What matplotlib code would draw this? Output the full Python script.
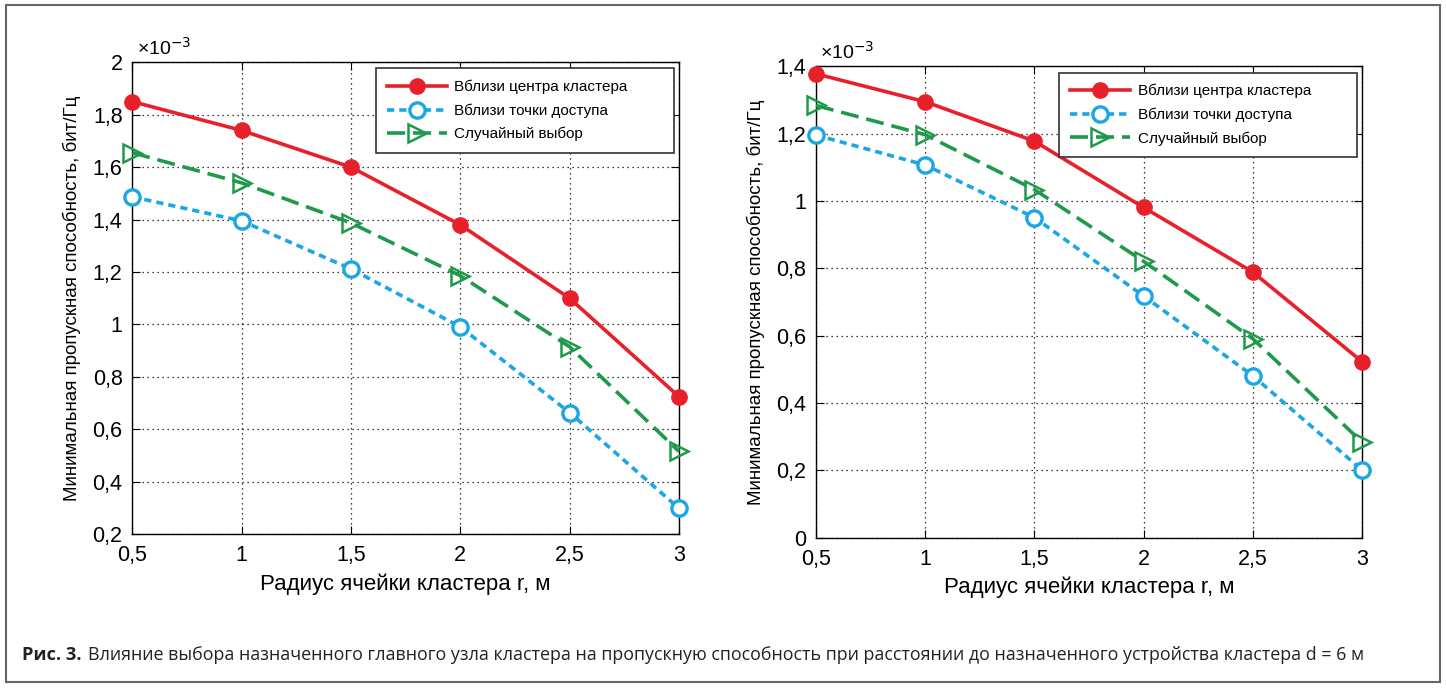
import matplotlib
matplotlib.use('Agg')
import matplotlib.pyplot as plt
from matplotlib.patches import Rectangle
from matplotlib.ticker import FuncFormatter, MultipleLocator

# ── Data ─────────────────────────────────────────────────────────
r = [0.5, 1.0, 1.5, 2.0, 2.5, 3.0]

# left panel (×10^-3)
left_center = [1.85, 1.74, 1.60, 1.38, 1.10, 0.725]
left_access = [1.487, 1.395, 1.212, 0.991, 0.664, 0.299]
left_random = [1.655, 1.54, 1.387, 1.186, 0.915, 0.516]

# right panel (×10^-3)
right_center = [1.378, 1.295, 1.178, 0.981, 0.789, 0.523]
right_access = [1.196, 1.107, 0.951, 0.718, 0.481, 0.201]
right_random = [1.284, 1.197, 1.034, 0.821, 0.591, 0.284]

labels = ["Вблизи центра кластера", "Вблизи точки доступа", "Случайный выбор"]

RED = "#e8202a"
BLUE = "#1aa7e3"
GREEN = "#1f9a4a"

plt.rcParams['font.family'] = ['Liberation Sans', 'DejaVu Sans']

comma = FuncFormatter(lambda v, p: (f"{v:g}").replace(".", ","))


def draw_panel(ax, center, access, random_, ylim, ystep):
    ax.plot(r, center, color=RED, lw=2.6, marker="o", ms=11,
            markerfacecolor=RED, markeredgecolor=RED, label=labels[0],
            zorder=4, clip_on=False)
    ax.plot(r, access, color=BLUE, lw=2.6, ls=(0, (2.0, 1.4)), marker="o", ms=11,
            markerfacecolor="white", markeredgecolor=BLUE, mew=2.4,
            label=labels[1], zorder=3, clip_on=False)
    ax.plot(r, random_, color=GREEN, lw=2.6, ls=(0, (5, 2.2)), marker=">", ms=13,
            markerfacecolor="none", markeredgecolor=GREEN, mew=1.8,
            label=labels[2], zorder=3, clip_on=False)
    ax.set_xlim(0.5, 3)
    ax.set_ylim(*ylim)
    ax.yaxis.set_major_locator(MultipleLocator(ystep))
    ax.xaxis.set_major_locator(MultipleLocator(0.5))
    ax.xaxis.set_major_formatter(comma)
    ax.yaxis.set_major_formatter(comma)
    ax.grid(True, ls=(0, (1, 3)), color="black", lw=0.9)
    ax.tick_params(direction="in", top=True, right=True, labelsize=15.5,
                   length=6)
    ax.tick_params(axis="x", pad=8)
    ax.tick_params(axis="y", pad=7)
    for s in ax.spines.values():
        s.set_linewidth(1.0)
    ax.set_xlabel("Радиус ячейки кластера r, м", fontsize=16, labelpad=5)
    ax.set_ylabel("Минимальная пропускная способность, бит/Гц", fontsize=13.5,
                  labelpad=8)
    ax.text(0.008, 1.008, r"×10$^{-3}$", transform=ax.transAxes, fontsize=14,
            ha="left", va="bottom")
    leg = ax.legend(loc="upper left", bbox_to_anchor=(0.445, 0.987, 0.546, 0.0),
                    mode="expand", fontsize=11, fancybox=False,
                    edgecolor="#333333", framealpha=1, borderaxespad=0,
                    handlelength=3.9, handletextpad=0.5, labelspacing=0.6,
                    borderpad=0.75)
    leg.get_frame().set_linewidth(1.2)


fig = plt.figure(figsize=(14.46, 6.88), dpi=100, facecolor="white")

ax1 = fig.add_axes([0.0915, 0.2235, 0.378, 0.686])
draw_panel(ax1, left_center, left_access, left_random, (0.2, 2.0), 0.2)

ax2 = fig.add_axes([0.5643, 0.2185, 0.3776, 0.685])
draw_panel(ax2, right_center, right_access, right_random, (0.0, 1.4), 0.2)

# outer frame
fig.patches.append(Rectangle((0.004, 0.008), 0.992, 0.985, transform=fig.transFigure,
                             fill=False, edgecolor="#666666", lw=1.5))

# caption: bold prefix, then the text fitted to the reference width
cap_font = ['Open Sans', 'DejaVu Sans']
cap_y = 1 - 655 / 688
t1 = fig.text(22 / 1446, cap_y, "Рис. 3.", fontsize=14, fontweight="bold",
              family=cap_font, ha="left", va="center", color="#222222")
t2 = fig.text(88 / 1446, cap_y,
              "Влияние выбора назначенного главного узла кластера на пропускную "
              "способность при расстоянии до назначенного устройства кластера d = 6 м",
              fontsize=14, family=cap_font, ha="left", va="center",
              color="#222222")
renderer = fig.canvas.get_renderer()
w = t2.get_window_extent(renderer).width
t2.set_fontsize(14 * 1282 / w)
w1 = t1.get_window_extent(renderer).width
t1.set_fontsize(14 * 60 / w1)

fig.savefig("out.png", dpi=100, facecolor="white")
